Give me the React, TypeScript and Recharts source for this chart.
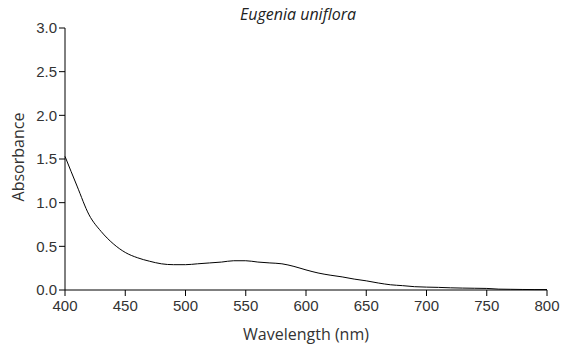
import React from 'react';
import { LineChart, Line, XAxis, YAxis, Customized } from 'recharts';

const wavelengths = [400, 410, 420, 430, 440, 450, 460, 470, 480, 490, 500, 510, 520, 530, 540, 550, 560, 570, 580, 590, 600, 610, 620, 630, 640, 650, 660, 670, 680, 690, 700, 710, 720, 730, 740, 750, 760, 770, 780, 790, 800];
const absorbance = [1.53, 1.19, 0.86, 0.67, 0.53, 0.43, 0.37, 0.33, 0.3, 0.29, 0.29, 0.3, 0.31, 0.32, 0.335, 0.335, 0.32, 0.31, 0.3, 0.27, 0.23, 0.195, 0.17, 0.15, 0.125, 0.105, 0.08, 0.06, 0.05, 0.038, 0.033, 0.03, 0.025, 0.022, 0.02, 0.018, 0.01, 0.008, 0.006, 0.005, 0.005];
const xTicks = [400, 450, 500, 550, 600, 650, 700, 750, 800];
const yTicks = [0, 0.5, 1, 1.5, 2, 2.5, 3];
const title = 'Eugenia uniflora';
const xLabel = 'Wavelength (nm)';
const yLabel = 'Absorbance';

const data = wavelengths.map((w, i) => ({ w, a: absorbance[i] }));

const tickStyle = { fontFamily: '"Liberation Sans", Arial, sans-serif', fontSize: 15, fill: '#333' };
const labelFont = '"Open Sans", sans-serif';

export default function App() {
  return (
    <div style={{ position: 'absolute', left: 0, top: 0, background: '#fff' }}>
      <LineChart width={567} height={349} data={data} margin={{ top: 28, right: 20, bottom: 0, left: 0 }}>
        <XAxis
          dataKey="w"
          type="number"
          domain={[400, 800]}
          ticks={xTicks}
          tick={tickStyle}
          tickLine={{ stroke: '#000' }}
          axisLine={{ stroke: '#000' }}
          tickSize={6}
          tickMargin={4}
          height={59}
          interval={0}
        />
        <YAxis
          type="number"
          domain={[0, 3]}
          ticks={yTicks}
          tick={tickStyle}
          tickFormatter={(v: number) => v.toFixed(1)}
          tickLine={{ stroke: '#000' }}
          axisLine={{ stroke: '#000' }}
          tickSize={6}
          tickMargin={2}
          width={65}
          interval={0}
        />
        <Line
          dataKey="a"
          type="monotone"
          stroke="#000"
          strokeWidth={1}
          dot={false}
          isAnimationActive={false}
        />
        <Customized
          component={() => (
            <g>
              <text x={298} y={20} textAnchor="middle" fontFamily={labelFont} fontStyle="italic" fontSize={16} fill="#222">
                {title}
              </text>
              <text x={306} y={340} textAnchor="middle" fontFamily={labelFont} fontSize={16} fill="#333">
                {xLabel}
              </text>
              <text
                x={24}
                y={157}
                textAnchor="middle"
                fontFamily={labelFont}
                fontSize={16}
                fill="#333"
                transform="rotate(-90, 24, 157)"
              >
                {yLabel}
              </text>
            </g>
          )}
        />
      </LineChart>
    </div>
  );
}
